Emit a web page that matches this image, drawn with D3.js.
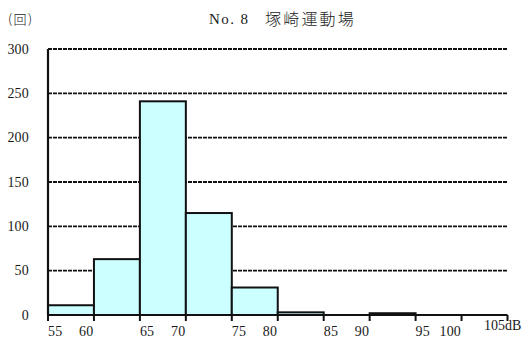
<!DOCTYPE html>
<html>
<head>
<meta charset="utf-8">
<script src="https://cdn.jsdelivr.net/npm/d3@7"></script>
<style>
  html, body { margin: 0; padding: 0; background: #fff; }
</style>
</head>
<body>
<svg id="chart" width="525" height="346"></svg>
<script>
// Frequency of noise events per 5 dB class
const bins = ["55-60", "60-65", "65-70", "70-75", "75-80", "80-85", "85-90", "90-95", "95-100", "100-105"];
const counts = [11, 63, 241, 115, 31, 3, 0, 2, 0, 0];
const lowerLabels = ["55", "", "65", "", "75", "", "85", "", "95", ""];
const upperLabels = ["60", "", "70", "", "80", "", "90", "", "100", ""];
const lastLabel = "105dB";
const yTicks = [0, 50, 100, 150, 200, 250, 300];
const titleNo = "No. 8";
const titleName = "塚崎運動場";
const unitText = "(回)";

const serif = "'Liberation Serif', 'DejaVu Serif', serif";
const cjk = "'Noto Sans CJK JP', sans-serif";
const ink = "#1a1a1a";

const svg = d3.select("#chart");
const plotLeft = 48, plotRight = 507.5, plotTop = 49, plotBottom = 315;

const x = d3.scaleBand().domain(bins).range([plotLeft, plotRight]).padding(0);
const y = d3.scaleLinear().domain([0, 300]).range([plotBottom, plotTop]);

// title and unit
svg.append("text").attr("x", 209).attr("y", 24).attr("font-family", serif).attr("fill", ink)
  .attr("font-size", 15).attr("letter-spacing", 1.4).text(titleNo);
svg.append("text").attr("x", 265).attr("y", 25).attr("font-family", cjk).attr("fill", ink)
  .attr("font-size", 16).attr("font-weight", 300).attr("letter-spacing", 2.2).text(titleName);
svg.append("text").attr("x", 8).attr("y", 24).attr("font-family", cjk).attr("fill", ink)
  .attr("font-size", 13).attr("font-weight", 300).attr("letter-spacing", 1.5).text(unitText);

// dashed gridlines
svg.append("g").selectAll("line").data(yTicks.filter(d => d > 0)).join("line")
  .attr("x1", plotLeft).attr("x2", plotRight)
  .attr("y1", d => y(d)).attr("y2", d => y(d))
  .attr("stroke", "#111").attr("stroke-width", 1.8).attr("stroke-dasharray", "4,1");

// y tick labels
svg.append("g").selectAll("text").data(yTicks).join("text")
  .attr("x", 29).attr("y", d => y(d) + 4.5).attr("font-family", serif).attr("fill", ink)
  .attr("text-anchor", "end").attr("font-size", 14).attr("letter-spacing", 0.2)
  .text(d => d);

// bars
svg.append("g").selectAll("rect").data(bins).join("rect")
  .attr("x", d => x(d)).attr("width", x.bandwidth())
  .attr("y", (d, i) => y(counts[i]))
  .attr("height", (d, i) => plotBottom - y(counts[i]))
  .attr("fill", "#ccffff").attr("stroke", "#111").attr("stroke-width", 2);

// y axis line
svg.append("line").attr("x1", plotLeft).attr("x2", plotLeft).attr("y1", plotTop).attr("y2", plotBottom)
  .attr("stroke", "#111").attr("stroke-width", 2.2);

// x axis with boundary ticks
const xAxis = svg.append("g");
xAxis.append("line").attr("x1", plotLeft).attr("x2", plotRight).attr("y1", plotBottom).attr("y2", plotBottom)
  .attr("stroke", "#111").attr("stroke-width", 2.2);
const bounds = bins.map(b => x(b)).concat([plotRight]);
xAxis.selectAll("line.tick").data(bounds).join("line").attr("class", "tick")
  .attr("x1", d => d).attr("x2", d => d).attr("y1", plotBottom).attr("y2", plotBottom + 6)
  .attr("stroke", "#111").attr("stroke-width", 2);

// class boundary labels
svg.append("g").selectAll("text").data(bins).join("text")
  .attr("x", d => x(d)).attr("y", 336).attr("font-family", serif).attr("fill", ink)
  .attr("font-size", 14).attr("letter-spacing", 0.2)
  .text((d, i) => lowerLabels[i]);
svg.append("g").selectAll("text").data(bins).join("text")
  .attr("x", d => x(d) + x.bandwidth() - 0.5).attr("y", 336).attr("text-anchor", "end")
  .attr("font-family", serif).attr("fill", ink)
  .attr("font-size", 14).attr("letter-spacing", 0.2)
  .text((d, i) => upperLabels[i]);
svg.append("text").attr("x", 484).attr("y", 330).attr("font-family", serif).attr("fill", ink)
  .attr("font-size", 14).attr("letter-spacing", 0)
  .text(lastLabel);
</script>
</body>
</html>
